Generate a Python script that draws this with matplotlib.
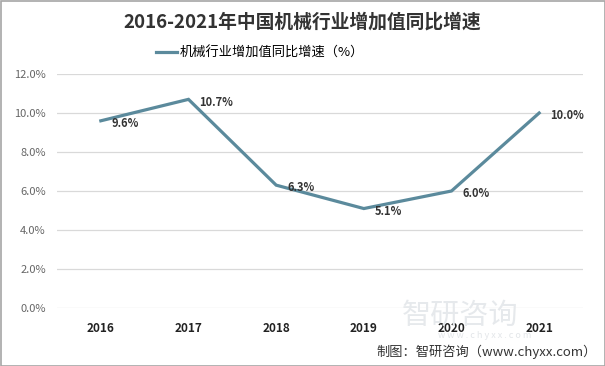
import matplotlib.pyplot as plt
from matplotlib.lines import Line2D

plt.rcParams['font.family'] = ['Noto Sans CJK SC', 'DejaVu Sans']

years = ['2016', '2017', '2018', '2019', '2020', '2021']
growth = [9.6, 10.7, 6.3, 5.1, 6.0, 10.0]
labels = ['9.6%', '10.7%', '6.3%', '5.1%', '6.0%', '10.0%']
yticks = [0, 2, 4, 6, 8, 10, 12]

line_color = '#5b8a9c'

fig = plt.figure(figsize=(6.05, 3.66), dpi=100)
ax = fig.add_axes([57 / 605, 1 - 308 / 366, (583 - 57) / 605, (308 - 74) / 366])

x = list(range(len(years)))
ax.plot(x, growth, color=line_color, linewidth=2.3, solid_joinstyle='miter')

for xi, yi, lab in zip(x, growth, labels):
    ax.annotate(lab, (xi, yi), xytext=(8, -2), textcoords='offset points',
                ha='left', va='center', fontsize=8, fontweight='bold', color='#333333')

ax.set_xlim(-0.5, len(years) - 0.5)
ax.set_ylim(0, 12)
ax.set_yticks(yticks)
ax.set_yticklabels([f'{v:.1f}%' for v in yticks], color='#666666', fontsize=8)
ax.set_xticks(x)
ax.set_xticklabels(years, fontsize=8.5, fontweight='bold', color='#222222')
ax.tick_params(length=0)
ax.tick_params(axis='x', pad=10)
ax.tick_params(axis='y', pad=8)
ax.grid(axis='y', color='#d9d9d9', linewidth=0.9)
ax.set_axisbelow(True)
for s in ax.spines.values():
    s.set_visible(False)

fig.text(0.5, 1 - 22 / 366, '2016-2021年中国机械行业增加值同比增速', ha='center', va='center',
         fontsize=13.5, fontweight='bold', color='#333333')

fig.legend(handles=[Line2D([], [], color=line_color, linewidth=2.3)],
           labels=['机械行业增加值同比增速（%）'], loc='center',
           bbox_to_anchor=(0.43, 1 - 53 / 366), frameon=False, fontsize=9.5,
           handlelength=1.6, handletextpad=0.2)

# watermark
fig.text(460 / 605, 1 - 316 / 366, '智研咨询', ha='center', va='center',
         fontsize=21, color='#e6e9ec', zorder=0)
fig.text(485 / 605, 1 - 336 / 366, 'w w w . c h y x x . c o m', ha='center', va='center',
         fontsize=6.5, color='#e3e6e9', zorder=0)

fig.text(597 / 605, 1 - 352 / 366, '制图：智研咨询（www.chyxx.com）', ha='right', va='center',
         fontsize=9.5, color='#333333')

fig.patches.append(plt.Rectangle((0.5 / 605, 0.5 / 366), 1 - 1 / 605, 1 - 1 / 366,
                                 transform=fig.transFigure, fill=False,
                                 edgecolor='#a6a6a6', linewidth=1.2))

fig.savefig('out.png', dpi=100)
